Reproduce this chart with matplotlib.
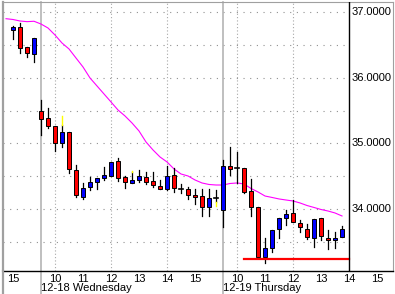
# intraday 15-min candles, 12-17 15:00 .. 12-19 13:45
import numpy as np
import matplotlib.pyplot as plt
from matplotlib.patches import Rectangle

plt.rcParams['font.family'] = ['Liberation Sans', 'DejaVu Sans']

# bar data (one entry per 15-min bar)
opens = [36.728, 36.774, 36.473, 36.362, 35.496, 35.385, 35.260, 35.003, 35.171, 34.595,
         34.190, 34.331, 34.417, 34.470, 34.508, 34.733, 34.490, 34.400, 34.435, 34.493,
         34.423, 34.347, 34.300, 34.519, 34.300, 34.300, 34.214, 34.198, 34.035, 34.163,
         33.985, 34.656, 34.630, 34.621, 34.280, 34.026, 33.263, 33.400, 33.690, 33.858,
         33.934, 33.782, 33.690, 33.553, 33.858, 33.562, 33.527, 33.568]
closes = [36.774, 36.463, 36.377, 36.606, 35.370, 35.260, 35.003, 35.171, 34.606, 34.206,
          34.316, 34.408, 34.473, 34.520, 34.713, 34.478, 34.408, 34.443, 34.500, 34.417,
          34.362, 34.300, 34.504, 34.316, 34.300, 34.214, 34.179, 34.035, 34.163, 34.163,
          34.656, 34.606, 34.630, 34.264, 34.026, 33.263, 33.400, 33.679, 33.858, 33.919,
          33.806, 33.720, 33.568, 33.847, 33.592, 33.527, 33.562, 33.690]
highs = [36.794, 36.844, 36.473, 36.606, 35.664, 35.537, 35.260, 35.282, 35.171, 34.672,
         34.400, 34.484, 34.473, 34.640, 34.713, 34.783, 34.510, 34.557, 34.600, 34.560,
         34.560, 34.443, 34.656, 34.621, 34.380, 34.340, 34.300, 34.300, 34.300, 34.290,
         34.748, 34.951, 34.875, 34.621, 34.453, 34.026, 33.553, 33.679, 33.858, 33.985,
         34.137, 33.832, 33.766, 33.847, 33.858, 33.679, 33.653, 33.740]
lows = [36.600, 36.377, 36.325, 36.249, 35.130, 35.229, 34.885, 34.942, 34.554, 34.180,
        34.148, 34.290, 34.300, 34.440, 34.500, 34.432, 34.316, 34.392, 34.417, 34.377,
        34.340, 34.300, 34.290, 34.264, 34.240, 34.148, 34.070, 33.893, 33.893, 34.111,
        33.730, 34.520, 34.392, 34.240, 33.900, 33.247, 33.170, 33.348, 33.553, 33.756,
        33.806, 33.644, 33.542, 33.415, 33.527, 33.385, 33.410, 33.568]

# yellow wick extensions: (bar, from, to)
yellow_bar = [7, 17, 29]
yellow_lo = [35.282, 34.557, 34.046]
yellow_hi = [35.424, 34.580, 34.111]

# moving average, starts one bar before the first candle
ma = [36.905, 36.893, 36.870, 36.860, 36.866, 36.824, 36.763, 36.656, 36.534, 36.443,
      36.305, 36.168, 36.000, 35.878, 35.756, 35.634, 35.511, 35.420, 35.313, 35.191,
      35.023, 34.901, 34.794, 34.718, 34.611, 34.534, 34.504, 34.443, 34.397, 34.374,
      34.366, 34.366, 34.389, 34.397, 34.382, 34.313, 34.260, 34.198, 34.176, 34.153,
      34.137, 34.122, 34.092, 34.053, 34.023, 33.992, 33.969, 33.939, 33.893]

support = 33.24
support_from = 33

# time axis
hour_slots = [0, 6, 10, 14, 18, 22, 26, 32, 36, 40, 44, 48, 52]
hour_labels = ['15', '10', '11', '12', '13', '14', '15', '10', '11', '12', '13', '14', '15']
grid_slots = [6, 14, 22, 32, 40]
day_slots = [4, 30]
day_labels = ['12-18 Wednesday', '12-19 Thursday']
price_ticks = [34.0, 35.0, 36.0, 37.0]
last_slot = 48

W, H = 395, 294
fig = plt.figure(figsize=(W / 100, H / 100), dpi=100)
ax = fig.add_axes([3 / W, (H - 271) / H, 390 / W, 269 / H])
ax.set_xlim(-10 / 7, 380 / 7)
ax.set_ylim(33.053, 37.160)

# grid
for p in np.arange(33.5, 37.01, 0.5):
    ax.plot([-10 / 7, last_slot], [p, p], color='#909090', lw=0.8,
            dashes=(1, 5), zorder=1)
for s in grid_slots:
    ax.axvline(s, color='#a8a8a8', lw=0.8, dashes=(1, 2), zorder=1)
for s in day_slots:
    ax.axvline(s, ymin=-0.09, ymax=1, color='#b4b4b4', lw=1.2, zorder=1, clip_on=False)

# candles
n = len(opens)
w = 0.62
for i in range(n):
    o, c, h, l = opens[i], closes[i], highs[i], lows[i]
    ax.plot([i, i], [l, h], color='black', lw=0.9, zorder=3)
    if c > o:
        ax.add_patch(Rectangle((i - w / 2, o), w, c - o, facecolor='#0000ff',
                               edgecolor='black', lw=0.7, zorder=4))
    elif c < o:
        ax.add_patch(Rectangle((i - w / 2, c), w, o - c, facecolor='#ff0000',
                               edgecolor='black', lw=0.7, zorder=4))
    else:
        ax.plot([i - w / 2, i + w / 2], [o, o], color='black', lw=1.2, zorder=4)

for b, lo, hi in zip(yellow_bar, yellow_lo, yellow_hi):
    ax.plot([b, b], [lo, hi], color='#ffff00', lw=1.0, zorder=5)

ax.plot(np.arange(-1, n), ma, color='#ff00ff', lw=0.8, zorder=2)
ax.plot([support_from, last_slot], [support, support], color='#ff0000', lw=1.6, zorder=5)

# price axis
ax.axvline(last_slot, color='black', lw=1.0, zorder=6)
for p in price_ticks:
    ax.text(last_slot + 0.3, p, '%.4f' % p, fontsize=8, ha='left', va='center')

# time labels
ax.set_xticks(hour_slots)
ax.set_xticklabels(hour_labels, fontsize=8)
ax.tick_params(axis='x', length=0, pad=2)
ax.set_yticks([])
for s, lab in zip(day_slots, day_labels):
    ax.text(s, -0.043, lab, transform=ax.get_xaxis_transform(), fontsize=8,
            ha='left', va='top')

for side in ['left', 'top', 'right']:
    ax.spines[side].set_color('#a0a0a0')
ax.spines['left'].set_linewidth(1.6)
ax.spines['bottom'].set_color('black')
ax.spines['bottom'].set_linewidth(1.0)

fig.add_artist(plt.Line2D([3 / W, 3 / W], [0, (H - 271) / H], color='#a0a0a0', lw=1.6))

fig.savefig('out.png', dpi=100)
